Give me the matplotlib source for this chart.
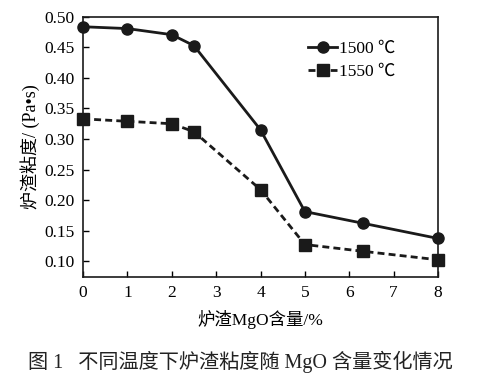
import matplotlib
matplotlib.use("Agg")
import matplotlib.pyplot as plt

# MgO content (%) and slag viscosity (Pa·s)
mgo = [0, 1, 2, 2.5, 4, 5, 6.3, 8]
visc_1500 = [0.484, 0.481, 0.471, 0.453, 0.315, 0.181, 0.162, 0.137]
visc_1550 = [0.333, 0.329, 0.325, 0.312, 0.217, 0.127, 0.116, 0.102]
series_labels = ["1500 ℃", "1550 ℃"]
xticks = [0, 1, 2, 3, 4, 5, 6, 7, 8]
yticks = [0.10, 0.15, 0.20, 0.25, 0.30, 0.35, 0.40, 0.45, 0.50]

SERIF = ["Liberation Serif", "DejaVu Serif"]
MIXED = ["Liberation Serif", "Noto Sans CJK SC", "DejaVu Sans"]

fig = plt.figure(figsize=(4.81, 3.86), dpi=100)
ax = fig.add_axes([0.1726, 0.2824, 0.7380, 0.6736])

ax.plot(mgo, visc_1500, "-o", color="#1a1a1a", linewidth=2, markersize=8,
        label=series_labels[0])
ax.plot(mgo, visc_1550, "--s", color="#1a1a1a", linewidth=2, markersize=9,
        dashes=(2.5, 1.5), label=series_labels[1])

ax.set_xlim(0, 8)
ax.set_ylim(0.0738, 0.50)
ax.set_xticks(xticks)
ax.set_yticks(yticks)
ax.set_xticklabels([str(t) for t in xticks], fontfamily=SERIF, fontsize=12.5)
ax.set_yticklabels([f"{t:.2f}" for t in yticks], fontfamily=SERIF, fontsize=12.5)
ax.tick_params(direction="in", length=4, width=1, top=False, right=False, pad=6)
for s in ax.spines.values():
    s.set_linewidth(1.2)
    s.set_color("#1a1a1a")
for m in ax.get_lines():
    m.set_clip_on(False)

ax.set_xlabel("炉渣MgO含量/%", fontfamily=MIXED, fontsize=12.5, labelpad=6)
ax.set_ylabel("炉渣粘度/ (Pa•s)", fontfamily=MIXED, fontsize=13, labelpad=3)

leg = ax.legend(loc="upper right", bbox_to_anchor=(0.90, 0.935), frameon=False,
                prop={"family": MIXED, "size": 12.5}, handlelength=1.7,
                handletextpad=0.1, labelspacing=0.4, borderaxespad=0)

fig.text(0.5, 0.062, "图 1   不同温度下炉渣粘度随 MgO 含量变化情况",
         ha="center", va="center", fontfamily=MIXED, fontsize=14.5, color="#222222")

fig.savefig("out.png", dpi=100)
plt.close()
